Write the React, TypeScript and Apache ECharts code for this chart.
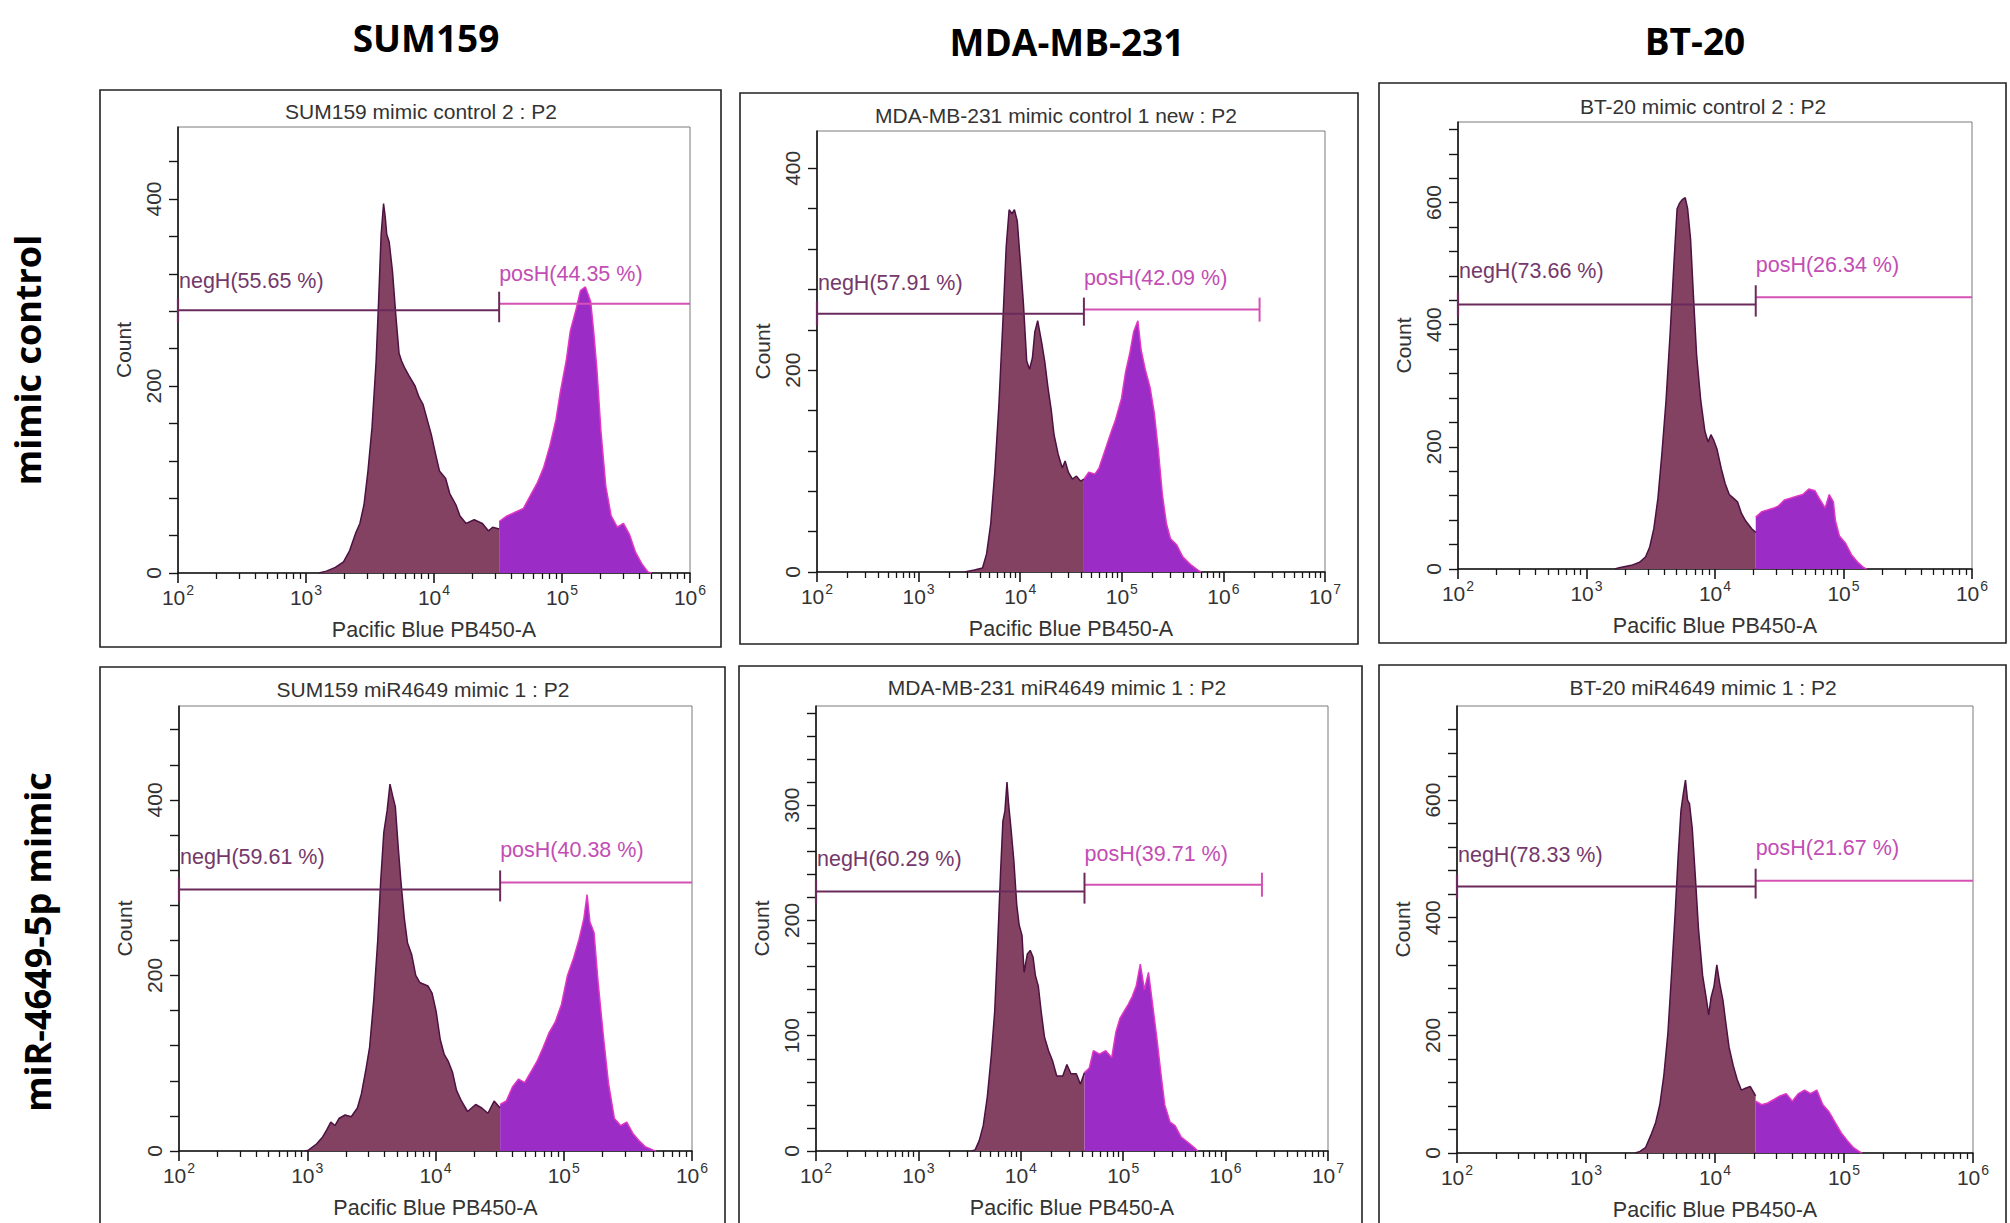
import React, { useEffect, useRef } from "react";
import * as echarts from "echarts";

type Pt = [number, number];

// ---------- DATA ----------
const columnHeaders = ["SUM159", "MDA-MB-231", "BT-20"];
const rowLabels = ["mimic control", "miR-4649-5p mimic"];

const panelTitles = [
  "SUM159 mimic control 2 : P2",
  "MDA-MB-231 mimic control 1 new : P2",
  "BT-20 mimic control 2 : P2",
  "SUM159 miR4649 mimic 1 : P2",
  "MDA-MB-231 miR4649 mimic 1 : P2",
  "BT-20 miR4649 mimic 1 : P2",
];
const negLabels = ["negH(55.65 %)", "negH(57.91 %)", "negH(73.66 %)", "negH(59.61 %)", "negH(60.29 %)", "negH(78.33 %)"];
const posLabels = ["posH(44.35 %)", "posH(42.09 %)", "posH(26.34 %)", "posH(40.38 %)", "posH(39.71 %)", "posH(21.67 %)"];

// x axis: log10 of Pacific Blue PB450-A intensity (decade exponents)
const xMinExp = 2;
const xMaxExp = [6, 7, 6, 6, 7, 6];
const yMax = [477, 437, 732, 507, 386, 760];
const yTickStep = [40, 40, 40, 40, 20, 40];
const yLabelStep = [200, 200, 200, 200, 100, 200];

const gateExp = [4.509, 4.627, 4.317, 4.504, 4.622, 4.315];
const gateEndExp = [6, 6.356, 6, 6, 6.355, 6];
const negGateCount = [281, 256, 433, 298, 225, 453];
const posGateCount = [288, 260, 445, 306, 231, 463];
const negLabelCount = [312, 286, 488, 335, 253, 506];
const posLabelCount = [320, 291, 498, 343, 258, 518];

const sum159CtrlNeg: Pt[] = [
  [3.10, 0], [3.159, 2], [3.229, 6], [3.293, 12], [3.341, 24], [3.389, 43], [3.421, 53], [3.453, 73], [3.484, 109],
  [3.516, 156], [3.548, 227], [3.567, 290], [3.587, 362], [3.606, 395], [3.619, 381], [3.631, 362], [3.650, 354],
  [3.676, 322], [3.702, 275], [3.727, 235], [3.746, 227], [3.772, 219], [3.804, 211], [3.852, 200], [3.883, 188],
  [3.915, 180], [3.947, 164], [3.979, 148], [4.011, 128], [4.043, 109], [4.091, 101], [4.123, 85], [4.171, 73],
  [4.203, 61], [4.251, 53], [4.314, 57], [4.378, 53], [4.426, 45], [4.458, 49], [4.509, 47],
];
const sum159CtrlPos: Pt[] = [
  [4.509, 55], [4.570, 61], [4.634, 65], [4.698, 69], [4.761, 85], [4.809, 97], [4.857, 113], [4.905, 136],
  [4.953, 164], [4.985, 192], [5.033, 227], [5.065, 259], [5.112, 283], [5.144, 302], [5.183, 306], [5.224, 290],
  [5.247, 259], [5.272, 219], [5.304, 152], [5.342, 93], [5.384, 61], [5.432, 49], [5.480, 53], [5.528, 41],
  [5.575, 22], [5.623, 10], [5.671, 1], [5.70, 0],
];

const mdaCtrlNeg: Pt[] = [
  [3.45, 0], [3.549, 2], [3.629, 4], [3.669, 18], [3.710, 48], [3.750, 99], [3.790, 165], [3.830, 249], [3.862, 322],
  [3.891, 359], [3.919, 355], [3.943, 359], [3.971, 348], [3.999, 311], [4.031, 267], [4.064, 209], [4.092, 201],
  [4.120, 212], [4.144, 238], [4.172, 249], [4.212, 227], [4.241, 209], [4.273, 183], [4.305, 161], [4.333, 136],
  [4.373, 117], [4.414, 103], [4.442, 110], [4.474, 99], [4.514, 92], [4.554, 95], [4.595, 90], [4.627, 92],
];
const mdaCtrlPos: Pt[] = [
  [4.627, 92], [4.675, 99], [4.735, 97], [4.776, 103], [4.836, 121], [4.896, 139], [4.936, 150], [4.997, 172],
  [5.037, 198], [5.077, 216], [5.117, 238], [5.158, 249], [5.190, 220], [5.230, 201], [5.278, 183], [5.319, 158],
  [5.359, 121], [5.399, 77], [5.439, 48], [5.479, 33], [5.540, 27], [5.600, 15], [5.681, 7], [5.761, 1], [5.78, 0],
];

const bt20CtrlNeg: Pt[] = [
  [3.22, 0], [3.254, 2], [3.349, 6], [3.413, 11], [3.460, 20], [3.492, 36], [3.524, 66], [3.556, 116], [3.587, 190],
  [3.619, 276], [3.651, 386], [3.683, 510], [3.705, 590], [3.724, 599], [3.746, 605], [3.768, 608], [3.787, 590],
  [3.810, 540], [3.832, 448], [3.857, 350], [3.889, 276], [3.921, 226], [3.946, 208], [3.968, 220], [3.990, 211],
  [4.016, 196], [4.048, 165], [4.079, 140], [4.111, 122], [4.143, 116], [4.175, 110], [4.206, 91], [4.238, 79],
  [4.286, 66], [4.317, 60],
];
const bt20CtrlPos: Pt[] = [
  [4.317, 85], [4.365, 94], [4.413, 97], [4.460, 100], [4.492, 103], [4.540, 113], [4.587, 116], [4.635, 119],
  [4.683, 122], [4.730, 131], [4.778, 128], [4.810, 116], [4.857, 100], [4.889, 122], [4.921, 110], [4.937, 79],
  [4.968, 54], [5.016, 42], [5.063, 23], [5.111, 11], [5.159, 2], [5.18, 0],
];

const sum159MirNeg: Pt[] = [
  [2.98, 0], [3.009, 1], [3.072, 8], [3.120, 16], [3.152, 24], [3.184, 33], [3.216, 29], [3.247, 37], [3.295, 41],
  [3.343, 39], [3.391, 49], [3.422, 65], [3.454, 90], [3.486, 118], [3.518, 171], [3.550, 241], [3.572, 306],
  [3.597, 363], [3.623, 388], [3.645, 418], [3.667, 404], [3.687, 392], [3.709, 347], [3.731, 306], [3.757, 265],
  [3.782, 237], [3.814, 224], [3.846, 200], [3.877, 192], [3.909, 190], [3.941, 188], [3.973, 180], [4.005, 159],
  [4.037, 127], [4.068, 110], [4.100, 102], [4.132, 90], [4.164, 69], [4.202, 57], [4.250, 45], [4.313, 53],
  [4.361, 49], [4.409, 43], [4.457, 57], [4.504, 49],
];
const sum159MirPos: Pt[] = [
  [4.504, 53], [4.552, 57], [4.600, 73], [4.648, 82], [4.695, 78], [4.743, 90], [4.791, 102], [4.839, 118],
  [4.886, 135], [4.934, 147], [4.982, 167], [5.029, 200], [5.077, 220], [5.119, 241], [5.157, 265], [5.182, 292],
  [5.204, 261], [5.236, 249], [5.268, 192], [5.309, 131], [5.348, 78], [5.395, 37], [5.443, 29], [5.491, 33],
  [5.539, 20], [5.586, 12], [5.634, 5], [5.698, 1], [5.72, 0],
];

const mdaMirNeg: Pt[] = [
  [3.52, 0], [3.554, 1], [3.594, 9], [3.633, 22], [3.673, 47], [3.713, 84], [3.745, 121], [3.773, 177], [3.801, 239],
  [3.825, 286], [3.845, 295], [3.865, 320], [3.880, 302], [3.904, 280], [3.932, 252], [3.960, 214], [3.984, 196],
  [4.012, 187], [4.032, 155], [4.064, 171], [4.092, 174], [4.120, 168], [4.143, 152], [4.171, 143], [4.199, 121],
  [4.231, 99], [4.271, 87], [4.311, 78], [4.351, 65], [4.410, 65], [4.450, 75], [4.490, 67], [4.542, 67],
  [4.582, 58], [4.622, 68],
];
const mdaMirPos: Pt[] = [
  [4.622, 68], [4.669, 72], [4.709, 87], [4.769, 84], [4.829, 87], [4.888, 81], [4.928, 103], [4.968, 115],
  [5.008, 121], [5.048, 127], [5.088, 134], [5.127, 143], [5.167, 162], [5.207, 140], [5.247, 155], [5.287, 127],
  [5.327, 99], [5.367, 68], [5.406, 40], [5.458, 25], [5.506, 22], [5.566, 12], [5.625, 8], [5.705, 2], [5.73, 0],
];

const bt20MirNeg: Pt[] = [
  [3.38, 0], [3.413, 2], [3.461, 9], [3.508, 33], [3.540, 52], [3.572, 82], [3.603, 131], [3.635, 204], [3.666, 314],
  [3.692, 411], [3.714, 503], [3.736, 582], [3.755, 612], [3.771, 634], [3.787, 600], [3.802, 594], [3.824, 551],
  [3.847, 472], [3.872, 381], [3.904, 302], [3.935, 259], [3.951, 235], [3.970, 265], [3.992, 283], [4.014, 320],
  [4.036, 289], [4.062, 259], [4.087, 216], [4.109, 180], [4.141, 149], [4.172, 125], [4.204, 107], [4.236, 110],
  [4.274, 113], [4.315, 97],
];
const bt20MirPos: Pt[] = [
  [4.315, 88], [4.362, 82], [4.409, 85], [4.457, 91], [4.504, 97], [4.552, 101], [4.599, 88], [4.647, 101],
  [4.694, 107], [4.741, 101], [4.789, 107], [4.836, 82], [4.884, 70], [4.931, 52], [4.979, 34], [5.026, 21],
  [5.074, 9], [5.121, 2], [5.14, 0],
];

const negSeriesData = [sum159CtrlNeg, mdaCtrlNeg, bt20CtrlNeg, sum159MirNeg, mdaMirNeg, bt20MirNeg];
const posSeriesData = [sum159CtrlPos, mdaCtrlPos, bt20CtrlPos, sum159MirPos, mdaMirPos, bt20MirPos];

// ---------- LAYOUT / STYLE ----------
const layout = [
  { box: [100, 90, 621, 557], grid: [178, 127, 512, 446], title: [421, 111] },
  { box: [740, 93, 618, 551], grid: [817, 131, 508, 441], title: [1056, 115] },
  { box: [1379, 83, 627, 560], grid: [1458, 122, 514, 447], title: [1703, 106] },
  { box: [100, 667, 625, 600], grid: [179, 706, 513, 445], title: [423, 689] },
  { box: [739, 666, 623, 600], grid: [816, 706, 512, 445], title: [1057, 687] },
  { box: [1379, 665, 627, 600], grid: [1457, 706, 516, 447], title: [1703, 687] },
];
const headerPos = [[426, 37], [1067, 41], [1695, 40]];
const rowLabelPos = [[27, 360], [37, 942]];

const FONT = '"Liberation Sans", Arial, sans-serif';
const HEAD_FONT = '"Open Sans", sans-serif';
const TXT = "#333333";
const AXIS = "#151515";
const NEG_FILL = "#834262";
const NEG_LINE = "#4c1242";
const POS_FILL = "#9c2cc6";
const POS_LINE = "#e236c4";
const NEG_GATE = "#6b2a5c";
const POS_GATE = "#d452b4";
const NEG_TEXT = "#74386a";
const POS_TEXT = "#c24db4";

function stepValues(from: number, to: number, step: number) {
  const out: number[] = [];
  for (let v = from; v <= to + 1e-9; v += step) out.push(Math.round(v * 1000) / 1000);
  return out;
}
function minorLogTicks(lo: number, hi: number) {
  const out: number[] = [];
  for (let d = lo; d < hi; d++) for (let k = 2; k <= 9; k++) out.push(d + Math.log10(k));
  return out;
}

function buildOption() {
  const grid: any[] = [];
  const xAxis: any[] = [];
  const yAxis: any[] = [];
  const series: any[] = [];
  const graphic: any[] = [];

  layout.forEach((l, i) => {
    const xMax = xMaxExp[i];
    grid.push({
      left: l.grid[0], top: l.grid[1], width: l.grid[2], height: l.grid[3],
      show: true, borderColor: "#7a7a7a", borderWidth: 1, backgroundColor: "rgba(0,0,0,0)", containLabel: false,
    });
    const majors = stepValues(xMinExp, xMax, 1);
    xAxis.push({
      type: "value", gridIndex: i, min: xMinExp, max: xMax, position: "bottom",
      axisLine: { show: true, onZero: false, lineStyle: { color: AXIS, width: 1.6 } },
      axisTick: { show: true, customValues: majors, length: 10, lineStyle: { color: AXIS, width: 1.6 } },
      axisLabel: {
        show: true, customValues: majors, margin: 10,
        formatter: (v: number) => `{b|10}{s|${Math.round(v)}}`,
        rich: {
          b: { fontSize: 21, fontFamily: FONT, color: TXT, verticalAlign: "bottom", lineHeight: 25 },
          s: { fontSize: 14, fontFamily: FONT, color: TXT, verticalAlign: "top", lineHeight: 14, padding: [0, 0, 0, 1] },
        },
      },
      splitLine: { show: false },
      name: "Pacific Blue PB450-A", nameLocation: "middle", nameGap: 46,
      nameTextStyle: { fontSize: 21.5, fontFamily: FONT, color: TXT },
    });
    xAxis.push({
      type: "value", gridIndex: i, min: xMinExp, max: xMax, position: "bottom", offset: 0,
      axisLine: { show: false },
      axisTick: { show: true, customValues: minorLogTicks(xMinExp, xMax), length: 6, lineStyle: { color: AXIS, width: 1.3 } },
      axisLabel: { show: false },
      splitLine: { show: false },
    });
    const yTicks = stepValues(0, yMax[i] - 1, yTickStep[i]);
    const yLabs = stepValues(0, yMax[i] - 1, yLabelStep[i]);
    yAxis.push({
      type: "value", gridIndex: i, min: 0, max: yMax[i],
      axisLine: { show: true, lineStyle: { color: AXIS, width: 1.6 } },
      axisTick: { show: true, customValues: yTicks, length: 9, lineStyle: { color: AXIS, width: 1.4 } },
      axisLabel: { show: true, customValues: yLabs, rotate: 90, margin: 14, fontSize: 21, fontFamily: FONT, color: TXT },
      splitLine: { show: false },
      name: "Count", nameLocation: "middle", nameGap: 44, nameRotate: 90,
      nameTextStyle: { fontSize: 21, fontFamily: FONT, color: TXT },
    });

    series.push({
      type: "line", xAxisIndex: 2 * i, yAxisIndex: i, data: negSeriesData[i], symbol: "none",
      lineStyle: { color: NEG_LINE, width: 1.5 }, areaStyle: { color: NEG_FILL, opacity: 1 }, z: 2,
    });
    series.push({
      type: "line", xAxisIndex: 2 * i, yAxisIndex: i, data: posSeriesData[i], symbol: "none",
      lineStyle: { color: POS_LINE, width: 1.5 }, areaStyle: { color: POS_FILL, opacity: 1 }, z: 2,
    });

    const gate = gateExp[i];
    const gEnd = gateEndExp[i];
    const nY = negGateCount[i];
    const pY = posGateCount[i];
    const nL = negLabelCount[i];
    const pL = posLabelCount[i];
    const negText = negLabels[i];
    const posText = posLabels[i];
    series.push({
      type: "custom", xAxisIndex: 2 * i, yAxisIndex: i, z: 5, clip: false,
      data: [[gate, nY]],
      renderItem: (_p: any, api: any) => {
        const a = api.coord([xMinExp, nY]);
        const g0 = api.coord([gate, nY]);
        const g1 = api.coord([gate, pY]);
        const e1 = api.coord([gEnd, pY]);
        const cap = 12;
        const nLab = api.coord([xMinExp, nL]);
        const pLab = api.coord([gate, pL]);
        const children: any[] = [
          { type: "line", shape: { x1: a[0], y1: a[1], x2: g0[0], y2: g0[1] }, style: { stroke: NEG_GATE, lineWidth: 2 } },
          { type: "line", shape: { x1: a[0], y1: a[1] - cap, x2: a[0], y2: a[1] + cap }, style: { stroke: NEG_GATE, lineWidth: 2.2 } },
          { type: "line", shape: { x1: g1[0], y1: g1[1], x2: e1[0], y2: e1[1] }, style: { stroke: POS_GATE, lineWidth: 2 } },
          { type: "line", shape: { x1: g1[0], y1: g1[1] - cap, x2: g0[0], y2: g0[1] + cap }, style: { stroke: NEG_GATE, lineWidth: 2 } },
          {
            type: "text", x: nLab[0] + 1, y: nLab[1],
            style: { text: negText, fill: NEG_TEXT, font: `21.5px ${FONT}`, textAlign: "left", align: "left", textVerticalAlign: "middle", verticalAlign: "middle" },
          },
          {
            type: "text", x: pLab[0], y: pLab[1],
            style: { text: posText, fill: POS_TEXT, font: `21.5px ${FONT}`, textAlign: "left", align: "left", textVerticalAlign: "middle", verticalAlign: "middle" },
          },
        ];
        if (gEnd < xMaxExp[i]) {
          children.push({ type: "line", shape: { x1: e1[0], y1: e1[1] - cap, x2: e1[0], y2: e1[1] + cap }, style: { stroke: POS_GATE, lineWidth: 2 } });
        }
        return { type: "group", children };
      },
    });

    graphic.push({
      type: "rect", shape: { x: l.box[0], y: l.box[1], width: l.box[2], height: l.box[3] },
      style: { fill: "none", stroke: "#222", lineWidth: 1.6 }, silent: true, z: 1,
    });
    graphic.push({
      type: "text", x: l.title[0], y: l.title[1],
      style: { text: panelTitles[i], font: `21px ${FONT}`, fill: TXT, textAlign: "center", textVerticalAlign: "middle" },
    });
  });

  columnHeaders.forEach((h, c) => {
    graphic.push({
      type: "text", x: headerPos[c][0], y: headerPos[c][1],
      style: { text: h, font: `bold 37px ${HEAD_FONT}`, fill: "#000", textAlign: "center", textVerticalAlign: "middle" },
    });
  });
  rowLabels.forEach((r, k) => {
    graphic.push({
      type: "text", x: rowLabelPos[k][0], y: rowLabelPos[k][1], rotation: Math.PI / 2,
      style: { text: r, font: `bold 36px ${HEAD_FONT}`, fill: "#000", textAlign: "center", textVerticalAlign: "middle" },
    });
  });

  return { animation: false, backgroundColor: "#fff", grid, xAxis, yAxis, series, graphic };
}

export default function App() {
  const ref = useRef<HTMLDivElement>(null);
  useEffect(() => {
    if (!ref.current) return;
    const chart = echarts.init(ref.current, undefined, { renderer: "svg" });
    chart.setOption(buildOption() as any);
    return () => chart.dispose();
  }, []);
  return (
    <div
      ref={ref}
      style={{ position: "absolute", left: 0, top: 0, width: 2010, height: 1223, background: "#fff" }}
    />
  );
}
